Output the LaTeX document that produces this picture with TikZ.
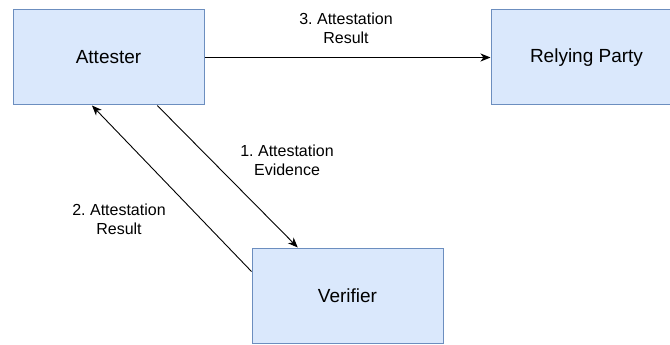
\documentclass[tikz,border=0pt]{standalone}
\usepackage{fontspec}
\setmainfont{Liberation Sans}
\usetikzlibrary{arrows.meta,calc}
\frenchspacing
\definecolor{boxfill}{HTML}{DAE8FC}
\definecolor{boxline}{HTML}{6C8EBF}
\tikzset{
  entity/.style={draw=boxline, fill=boxfill, line width=1pt, inner sep=0pt,
    minimum width=191pt, minimum height=95pt,
    font=\fontsize{19}{23}\selectfont},
  flow/.style={draw=black, line width=0.9pt,
    -{Stealth[length=10pt,width=8pt,inset=3pt]}},
  flowlabel/.style={align=center, inner sep=0pt,
    font=\fontsize{16}{19}\selectfont}
}
\begin{document}
\begin{tikzpicture}[x=1pt,y=-1pt]
  \useasboundingbox (0,0) rectangle (670,345);
  \clip (0,0) rectangle (670,345);

  % the three parties
  \node[entity] (att) at (108.5,57.5) {Attester};
  \node[entity] (rp)  at (586.5,57.5) {Relying Party};
  \node[entity] (ver) at (347.5,295.5) {Verifier};

  % attachment points on the box borders
  \coordinate (attE)  at ($(att.south west)!0.754!(att.south east)$);
  \coordinate (verN)  at ($(ver.north west)!0.241!(ver.north east)$);
  \coordinate (verW)  at ($(ver.north west)!0.25!(ver.south west)$);
  \coordinate (attR)  at ($(att.south west)!0.414!(att.south east)$);

  % messages
  \draw[flow] (att.east) -- (rp.west);
  \draw[flow] (attE) -- (verN);
  \draw[flow] (verW) -- (attR);

  \node[flowlabel] (l3) at (346,28)  {3. Attestation\\Result};
  \node[flowlabel] (l1) at (287,160) {1. Attestation\\Evidence};
  \node[flowlabel] (l2) at (119,219) {2. Attestation\\Result};
\end{tikzpicture}
\end{document}
